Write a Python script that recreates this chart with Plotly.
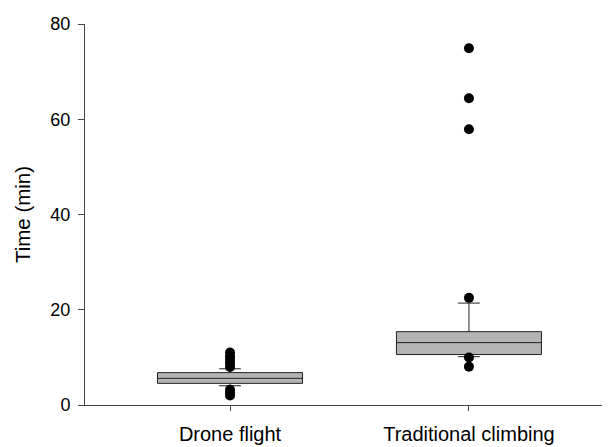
import plotly.graph_objects as go

categories = ["Drone flight", "Traditional climbing"]
q1 = [4.55, 10.6]
median = [5.6, 13.1]
q3 = [6.8, 15.4]
lower_whisker = [4.05, 10.15]
upper_whisker = [7.6, 21.4]

outlier_cat = ["Drone flight"] * 8 + ["Traditional climbing"] * 6
outlier_val = [11.0, 10.2, 9.5, 8.8, 8.0, 3.2, 2.6, 2.0,
               74.9, 64.4, 57.9, 22.5, 10.0, 8.05]

y_ticks = [0, 20, 40, 60, 80]

fig = go.Figure()
fig.add_trace(go.Box(
    x=categories, q1=q1, median=median, q3=q3,
    lowerfence=lower_whisker, upperfence=upper_whisker,
    width=0.607, whiskerwidth=0.15,
    fillcolor="#b4b4b4", line=dict(color="#222222", width=1),
    boxpoints=False, showlegend=False, hoverinfo="skip",
))
fig.add_trace(go.Scatter(
    x=outlier_cat, y=outlier_val, mode="markers",
    marker=dict(color="black", size=10), showlegend=False,
))

fig.update_layout(
    width=602, height=439,
    margin=dict(l=77, r=2, t=16, b=42),
    plot_bgcolor="white", paper_bgcolor="white",
    font=dict(family="Liberation Sans, Arial, sans-serif", color="black"),
    xaxis=dict(
        type="category", range=[-0.607, 1.582],
        showline=True, linecolor="#444444", linewidth=1,
        ticks="outside", ticklen=5, tickcolor="#444444",
        tickfont=dict(size=20), showgrid=False, zeroline=False,
        ticklabelstandoff=6,
    ),
    yaxis=dict(
        range=[0, 80], tickvals=y_ticks,
        showline=True, linecolor="#444444", linewidth=1,
        ticks="outside", ticklen=6, tickcolor="#444444",
        tickfont=dict(size=18), showgrid=False, zeroline=False,
        ticklabelstandoff=4,
        title=dict(text="Time (min)", font=dict(size=20.5), standoff=14),
    ),
)

fig.write_html("out.html")
